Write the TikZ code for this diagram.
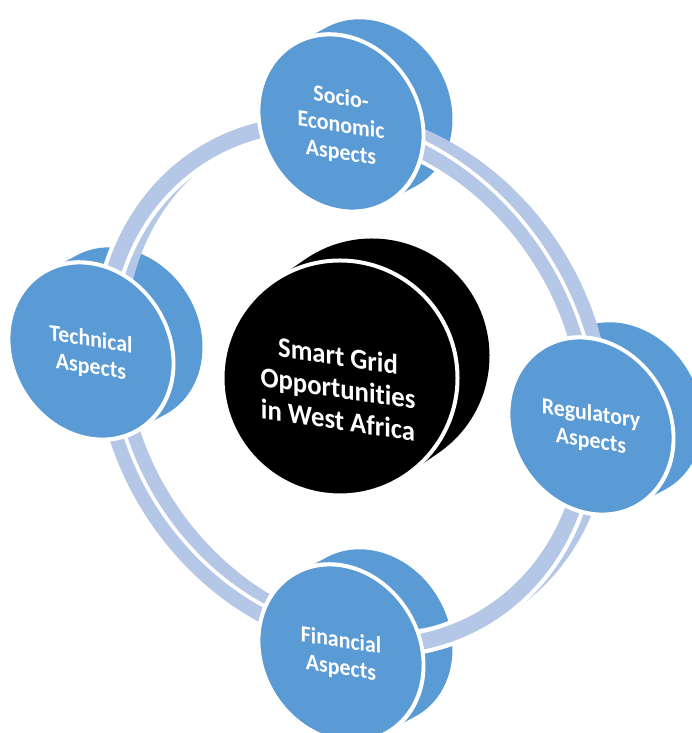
\documentclass[tikz,border=0pt]{standalone}
\usepackage{fontspec}
\setmainfont{Carlito}[Ligatures=NoCommon]
\begin{document}
\begin{tikzpicture}[x=1pt,y=1pt]
\definecolor{cblue}{HTML}{5B9BD5}
\definecolor{cring}{HTML}{B4C7E7}
\tikzset{
  sidewall/.style={cblue, line width=168pt, line cap=round},
  frontface/.style={draw=white, line width=4pt, fill=cblue},
  ringband/.style={cring, line width=15pt},
  ringgap/.style={white, line width=23pt},
  smalltext/.style={text=white, align=center, font=\bfseries\fontsize{22.5}{26.5}\selectfont},
  bigtext/.style={text=white, align=center, font=\bfseries\fontsize{27.5}{31}\selectfont},
}
\useasboundingbox (0,0) rectangle (692,733);
\clip (0,0) rectangle (692,733);
% ---- back / side walls of the discs
\begin{scope}[transform canvas={cm={0.971,-0.146,0,1.033,(341,610)}}]
  \draw[sidewall] (0,0) -- (30.8,19.9);
\end{scope}
\begin{scope}[transform canvas={cm={0.971,-0.146,0,1.033,(91,382)}}]
  \draw[sidewall] (0,0) -- (30.8,19.9);
\end{scope}
\begin{scope}[transform canvas={cm={0.971,-0.146,0,1.033,(591,307)}}]
  \draw[sidewall] (0,0) -- (30.8,19.9);
\end{scope}
\begin{scope}[transform canvas={cm={0.971,-0.146,0,1.033,(341,80)}}]
  \draw[sidewall] (0,0) -- (30.8,19.9);
\end{scope}
% central black disc
\draw[black, line width=235pt, line cap=round] (340,355) -- ++(32,22);
\draw[white, line width=4pt, fill=black] (340,355) circle (117.5);
\begin{scope}[transform canvas={cm={0.971,-0.146,0,1.033,(338,345)}}]
  \node[bigtext] (center) at (0,0) {Smart Grid\\Opportunities\\in West Africa};
\end{scope}
% ---- ring
\begin{scope}[transform canvas={cm={0.971,-0.146,0,1.033,(345,348)}}]
  \foreach \t in {0,0.1,...,1.01} {
    \draw[ringband] ({\t*16.5},{\t*10.1}) circle (250);
  }
  \draw[ringgap] (0,0) circle (250);
  \draw[ringband] (0,0) circle (250);
\end{scope}
% ---- front faces
\begin{scope}[transform canvas={cm={0.971,-0.146,0,1.033,(341,610)}}]
  \draw[frontface] (0,0) circle (85);
  \node[smalltext] (socio) at (0,-3) {Socio-\\Economic\\Aspects};
\end{scope}
\begin{scope}[transform canvas={cm={0.971,-0.146,0,1.033,(91,382)}}]
  \draw[frontface] (0,0) circle (85);
  \node[smalltext] (tech) at (0,-3) {Technical\\Aspects};
\end{scope}
\begin{scope}[transform canvas={cm={0.971,-0.146,0,1.033,(591,307)}}]
  \draw[frontface] (0,0) circle (85);
  \node[smalltext] (reg) at (0,-2) {Regulatory\\Aspects};
\end{scope}
\begin{scope}[transform canvas={cm={0.971,-0.146,0,1.033,(341,80)}}]
  \draw[frontface] (0,0) circle (85);
  \node[smalltext] (fin) at (0,-2) {Financial\\Aspects};
\end{scope}
\end{tikzpicture}
\end{document}
